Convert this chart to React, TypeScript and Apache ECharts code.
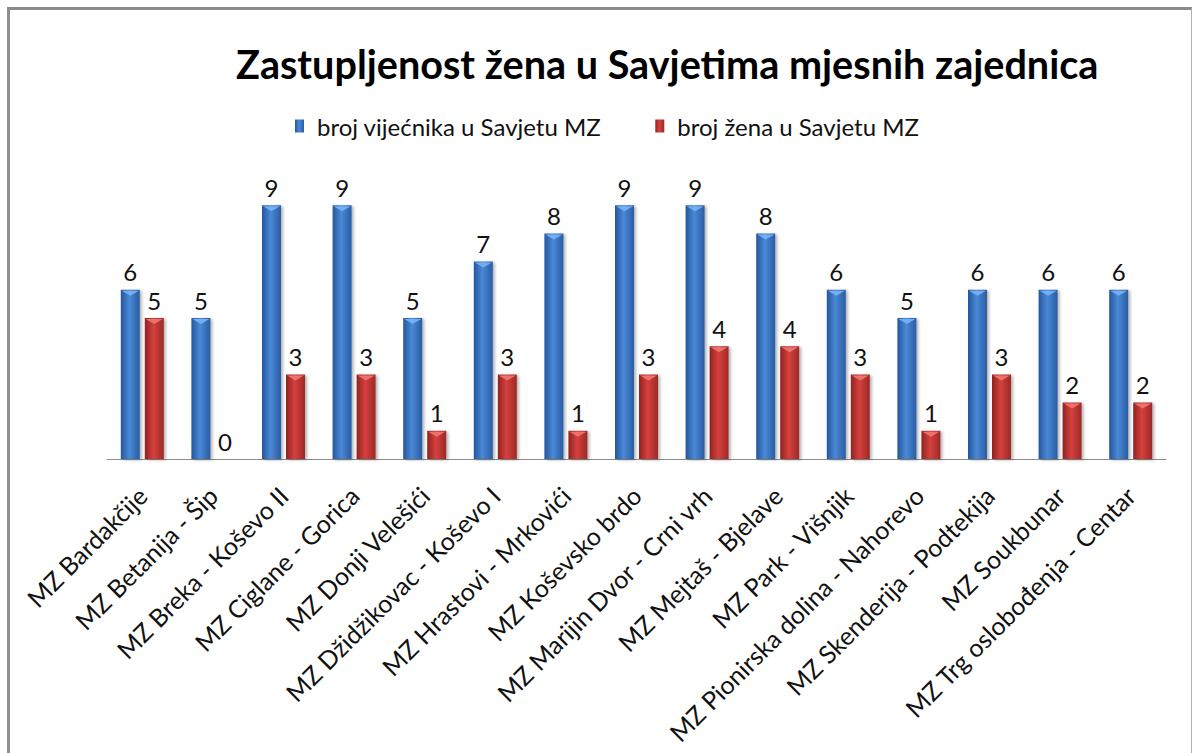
import React, { useEffect, useRef } from "react";
import * as echarts from "echarts";

const categories = [
  "MZ Bardakčije",
  "MZ Betanija - Šip",
  "MZ Breka - Koševo II",
  "MZ Ciglane - Gorica",
  "MZ Donji Velešići",
  "MZ Džidžikovac - Koševo I",
  "MZ Hrastovi - Mrkovići",
  "MZ Koševsko brdo",
  "MZ Marijin Dvor - Crni vrh",
  "MZ Mejtaš - Bjelave",
  "MZ Park - Višnjik",
  "MZ Pionirska dolina - Nahorevo",
  "MZ Skenderija - Podtekija",
  "MZ Soukbunar",
  "MZ Trg oslobođenja - Centar",
];
const councillors = [6, 5, 9, 9, 5, 7, 8, 9, 9, 8, 6, 5, 6, 6, 6];
const women = [5, 0, 3, 3, 1, 3, 1, 3, 4, 4, 3, 1, 3, 2, 2];
const seriesNames = ["broj vijećnika u Savjetu MZ", "broj žena u Savjetu MZ"];

const FONT = "Lato, 'Open Sans', sans-serif";
const BAR_W = 19;
const GAP = 5;

function grad(c1: string, c2: string, c3: string) {
  return new echarts.graphic.LinearGradient(0, 0, 1, 0, [
    { offset: 0, color: c1 },
    { offset: 0.45, color: c2 },
    { offset: 1, color: c3 },
  ]);
}

function bevel(offset: number, color: string) {
  return (params: any, api: any) => {
    const v = api.value(1);
    if (!v) return null;
    const p = api.coord([api.value(0), v]);
    const cx = p[0] + offset;
    const y = p[1];
    const h = 6;
    return {
      type: "polygon",
      shape: {
        points: [
          [cx - BAR_W / 2 + 1, y + 1],
          [cx + BAR_W / 2 - 1, y + 1],
          [cx, y + h],
        ],
      },
      style: { fill: color },
    };
  };
}

export default function App() {
  const ref = useRef<HTMLDivElement>(null);
  useEffect(() => {
    if (!ref.current) return;
    const chart = echarts.init(ref.current, undefined, { renderer: "svg" });
    const labelStyle = {
      show: true,
      position: "top" as const,
      distance: 6,
      fontFamily: FONT,
      fontSize: 24,
      color: "#111",
    };
    const off = (BAR_W + GAP) / 2;
    chart.setOption({
      animation: false,
      backgroundColor: "#ffffff",
      title: {
        text: "Zastupljenost žena u Savjetima mjesnih zajednica",
        left: 231,
        top: 38,
        textStyle: {
          fontFamily: FONT,
          fontWeight: "bold",
          fontSize: 39.6,
          color: "#000",
        },
      },
      legend: {
        left: 290,
        top: 109,
        icon: "rect",
        itemWidth: 9,
        itemHeight: 13,
        itemGap: 54,
        textStyle: { fontFamily: FONT, fontSize: 24, color: "#111", padding: [0, 0, 0, 8] },
        data: seriesNames,
      },
      grid: { left: 107, right: 29, top: 177, bottom: 294, containLabel: false },
      xAxis: {
        type: "category",
        data: categories,
        axisLine: { lineStyle: { color: "#8c8c8c", width: 1 } },
        axisTick: { show: false },
        axisLabel: {
          interval: 0,
          rotate: 45,
          margin: 32,
          fontFamily: FONT,
          fontSize: 25,
          color: "#111",
        },
      },
      yAxis: {
        type: "value",
        min: 0,
        max: 10,
        show: false,
        splitLine: { show: false },
      },
      series: [
        {
          name: seriesNames[0],
          type: "bar",
          data: councillors,
          barWidth: BAR_W,
          barGap: (GAP / BAR_W) * 100 + "%",
          label: labelStyle,
          itemStyle: {
            color: grad("#24569c", "#4a89d6", "#2a5ca3"),
            shadowColor: "rgba(0,0,0,0.3)",
            shadowBlur: 3,
            shadowOffsetX: 2,
            shadowOffsetY: 1,
          },
        },
        {
          name: seriesNames[1],
          type: "bar",
          data: women,
          barWidth: BAR_W,
          label: labelStyle,
          itemStyle: {
            color: grad("#8f2321", "#d6403d", "#9b2a27"),
            shadowColor: "rgba(0,0,0,0.3)",
            shadowBlur: 3,
            shadowOffsetX: 2,
            shadowOffsetY: 1,
          },
        },
        {
          type: "custom",
          silent: true,
          z: 5,
          renderItem: bevel(-off, "rgba(120,180,245,0.9)"),
          data: councillors.map((v, i) => [i, v]),
          legendHoverLink: false,
        },
        {
          type: "custom",
          silent: true,
          z: 5,
          renderItem: bevel(off, "rgba(240,120,115,0.9)"),
          data: women.map((v, i) => [i, v]),
          legendHoverLink: false,
        },
      ],
    });
    return () => chart.dispose();
  }, []);
  return (
    <div style={{ position: "absolute", left: 0, top: 0, width: 1195, height: 753, background: "#fff" }}>
      <div ref={ref} style={{ position: "absolute", left: 0, top: 0, width: 1195, height: 753 }} />
      <div
        style={{
          position: "absolute",
          left: 7,
          top: 7,
          width: 1185,
          height: 760,
          borderTop: "3px solid #8a8a8a",
          borderLeft: "3px solid #8f8f8f",
          borderRight: "1px solid #b0b0b0",
          pointerEvents: "none",
          boxSizing: "border-box",
        }}
      />
    </div>
  );
}
